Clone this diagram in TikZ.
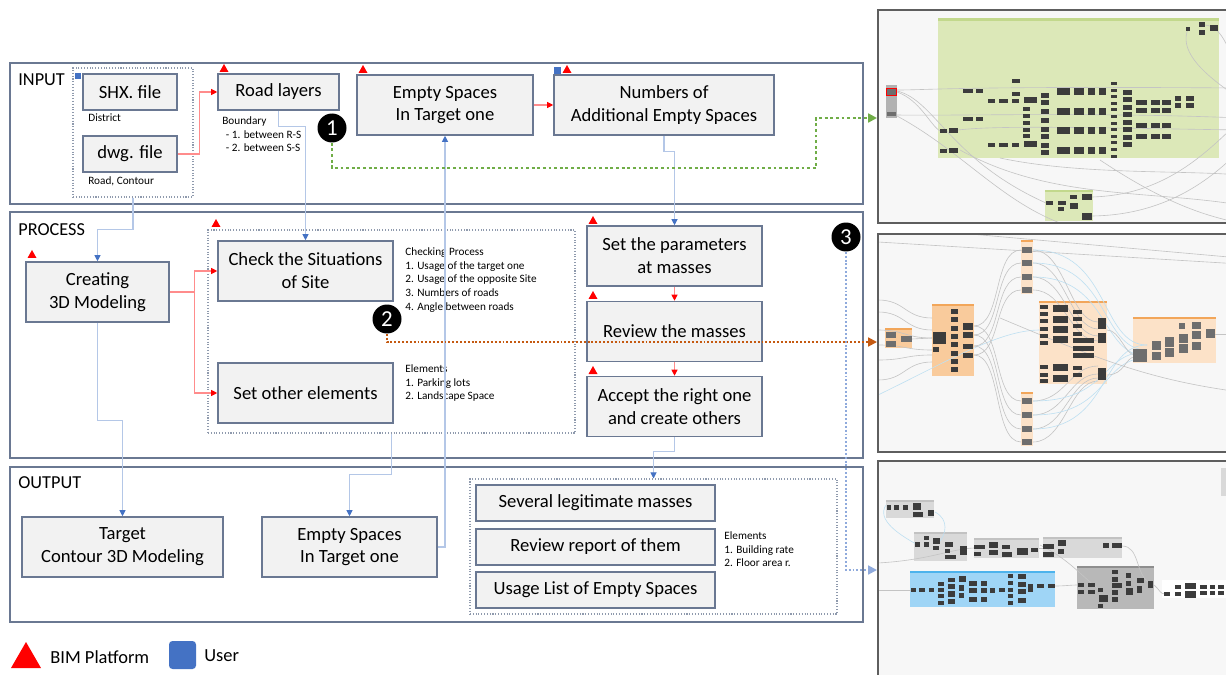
\documentclass[tikz,border=0pt]{standalone}
\usepackage{fontspec}
\setmainfont{Carlito}
\usetikzlibrary{arrows.meta}

\definecolor{frame}{HTML}{6A7892}
\definecolor{boxfill}{HTML}{F2F2F2}
\definecolor{bimred}{HTML}{FF0000}
\definecolor{userblue}{HTML}{4472C4}
\definecolor{redwire}{HTML}{FF8C8C}
\definecolor{bluewire}{HTML}{B4C7E7}
\definecolor{dotgreen}{HTML}{70AD47}
\definecolor{dotorange}{HTML}{C55A11}
\definecolor{dotblue}{HTML}{8FAADC}
\definecolor{shotbg}{HTML}{F7F7F7}
\definecolor{shotframe}{HTML}{5E5E5E}
\definecolor{dyngreen}{HTML}{DCE8B8}
\definecolor{dyngreenhd}{HTML}{C2D88C}
\definecolor{dynorange}{HTML}{F9CB9C}
\definecolor{dynorangehd}{HTML}{F2A65A}
\definecolor{dynpeach}{HTML}{FCE2C8}
\definecolor{dynblue}{HTML}{9FD5F6}
\definecolor{dynbluehd}{HTML}{4DB3EC}
\definecolor{dyngrey}{HTML}{D9D9D9}
\definecolor{dyngreyhd}{HTML}{C2C2C2}
\definecolor{dyndark}{HTML}{B8B8B8}
\definecolor{dyndarkhd}{HTML}{8E8E8E}
\definecolor{nodedark}{HTML}{3C3C3C}
\definecolor{nodemid}{HTML}{6E6E6E}
\definecolor{wiregrey}{HTML}{C4C4C4}
\definecolor{wireblue}{HTML}{BFE0F2}

\tikzset{
  sz/.style 2 args={minimum width=#1*0.02cm, minimum height=#2*0.02cm},
  panel/.style={draw=frame, line width=0.9pt},
  stage/.style={draw=frame, fill=boxfill, line width=0.9pt, inner sep=0pt,
    align=center, font=\fontsize{10.6}{13}\selectfont},
  grp/.style={draw=frame!75, densely dotted, line width=0.6pt, inner sep=0pt},
  title/.style={anchor=west, inner sep=0pt, font=\fontsize{10.4}{12}\selectfont},
  note/.style={anchor=north west, inner sep=0pt, align=left,
    font=\fontsize{6.4}{7.9}\selectfont},
  badge/.style={circle, fill=black, text=white, inner sep=0pt, minimum size=0.58cm,
    font=\fontsize{13}{13}\selectfont},
  rflow/.style={draw=redwire, line width=0.6pt,
    -{Triangle[length=3.5pt, width=3.5pt, color=bimred]}},
  bflow/.style={draw=bluewire, line width=0.6pt,
    -{Triangle[length=3.5pt, width=3.5pt, color=userblue]}},
  link/.style={-{Triangle[length=5pt, width=5pt]}},
  wire/.style={draw=wiregrey, line width=0.35pt},
}

\begin{document}
\begin{tikzpicture}[x=0.02cm, y=-0.02cm]
\useasboundingbox (0,0) rectangle (1226,675);
\fill[white] (0,0) rectangle (1226,675);

% ---------- Dynamo screenshots (right) ----------
\begin{scope}
\clip (876,0) rectangle (1226,675);
% graph 1: green groups
\fill[shotbg] (878,10) rectangle (1240,223);
\fill[dyngreen] (938,18) rectangle (1219,158);
\fill[dyngreenhd] (938,18) rectangle (1219,21);
\fill[dyngreen] (1045,190) rectangle (1093,221);
\fill[dyngreenhd] (1045,190) rectangle (1093,192);
\draw[wire] (897,90) .. controls (930,90) and (960,86) .. (1240,88);
\draw[wire] (897,91) .. controls (935,100) and (950,160) .. (1046,203);
\draw[wire] (897,92) .. controls (920,100) and (930,125) .. (940,131);
\draw[wire] (897,115) .. controls (950,116) and (1100,112) .. (1240,118);
\draw[wire] (897,116) .. controls (960,150) and (1000,200) .. (1060,223);
\draw[wire] (1188,29) .. controls (1175,60) and (1230,90) .. (1240,100);
\draw[wire] (1204,25) .. controls (1225,25) and (1230,60) .. (1240,70);
\draw[wire] (1092,197) .. controls (1160,195) and (1200,160) .. (1240,120);
\draw[wire] (1092,216) .. controls (1170,215) and (1215,175) .. (1240,150);
\draw[wire] (960,150) .. controls (1050,200) and (1150,190) .. (1240,205);
\draw[wire] (1100,160) .. controls (1160,200) and (1200,215) .. (1240,223);
\draw[wire] (1000,158) .. controls (1080,175) and (1180,170) .. (1240,175);
\draw[wire] (958,130) .. controls (1000,125) and (1100,128) .. (1240,130);
\foreach \a/\b/\c/\d in {963/89/973/93, 976/89/983/93, 1012/79/1020/83, 1012/92/1020/96,
  988/99/995/103, 999/99/1008/103, 1012/99/1019/103, 1024/97/1037/103,
  963/117/973/121, 976/117/983/121, 940/129/947/133, 949/128/958/133,
  940/149/947/153, 949/148/958/153, 988/143/995/147, 999/143/1008/147,
  1012/143/1019/147, 1024/141/1037/147, 1186/27/1190/31, 1199/22/1205/27,
  1199/30/1205/35, 1210/25/1218/31, 1046/201/1053/205, 1058/201/1066/205,
  1058/207/1064/211, 1070/195/1077/199, 1070/203/1078/209, 1082/194/1092/200,
  1082/213/1092/220}
  \fill[nodedark] (\a,\b) rectangle (\c,\d);
\foreach \y in {107,114,121,128,134} \fill[nodedark] (1023,\y) rectangle (1030,\y+4);
\foreach \y in {93,100,109,118,127,134,143,150} \fill[nodedark] (1041,\y) rectangle (1049,\y+5);
\foreach \y in {88,108,127,147}
  \foreach \a/\c in {1057/1070,1074/1084,1088/1095,1099/1106}
    \fill[nodedark] (\a,\y) rectangle (\c,\y+7);
\foreach \k in {0,...,11} \fill[nodedark] (1111,82+6.6*\k) rectangle (1117,85+6.6*\k);
\foreach \k in {0,...,7} \fill[nodedark] (1123,90+7.5*\k) rectangle (1132,95+7.5*\k);
\foreach \y in {100,108,123,134}
  \foreach \a/\c in {1136/1147,1151/1160,1162/1171}
    \fill[nodedark] (\a,\y) rectangle (\c,\y+5);
\foreach \y in {96,103}
  \foreach \a/\c in {1175/1181,1186/1194}
    \fill[nodedark] (\a,\y) rectangle (\c,\y+5);
\fill[black!30] (886,85) rectangle (897,118);
\filldraw[fill=nodemid, draw=red, line width=0.5pt] (886.5,88) rectangle (896.5,95);
\fill[nodemid] (887,112) rectangle (896,116);
\draw[shotframe, line width=1.1pt] (878,10) rectangle (1240,223);

% graph 2: orange groups
\fill[shotbg] (878,234) rectangle (1240,452);
\foreach \a/\b/\c/\d/\f in {885/328/912/348/dynorange, 932/304/974/376/dynorange,
  1021/240/1033/294/dynpeach, 1021/392/1033/446/dynpeach,
  1039/301/1107/384/dynpeach, 1133/317/1216/363/dynpeach}
  {\fill[\f] (\a,\b) rectangle (\c,\d);
   \fill[dynorangehd] (\a,\b) rectangle (\c,\b+2);}
\draw[wire] (878,242) -- (1240,264);
\draw[wire] (970,234) -- (1240,258);
\foreach \a/\b in {300/318, 312/330, 330/338, 345/350, 360/355, 380/362}
  \draw[wire] (878,\a) .. controls (905,\a) and (905,\b) .. (932,\b);
\draw[wire, draw=wireblue] (878,395) .. controls (950,360) and (1000,330) .. (1040,330);
\draw[wire] (912,339) -- (932,338);
\foreach \a/\b in {326/250, 335/263, 346/277, 355/290, 326/401, 335/415, 346/429, 355/442}
  \draw[wire] (974,\a) .. controls (1002,\a) and (993,\b) .. (1021,\b);
\foreach \b/\c in {250/322, 263/329, 277/336, 290/341, 401/366, 415/374, 429/378, 442/381}
  \draw[wire] (1033,\b) .. controls (1065,\b) and (1070,\c) .. (1098,\c);
\foreach \b/\c in {250/345, 263/350, 277/356, 401/352, 415/358, 429/345}
  \draw[wire, draw=wireblue] (1033,\b) .. controls (1110,\b) and (1100,\c) .. (1147,\c);
\draw[wire] (1107,330) .. controls (1120,330) and (1125,355) .. (1135,355);
\draw[wire] (1107,375) .. controls (1125,375) and (1125,357) .. (1135,357);
\draw[wire] (1215,334) -- (1240,334);
\draw[wire] (1000,318) .. controls (1100,360) and (1150,380) .. (1240,392);
\foreach \a/\b/\c/\d in {886/332/896/338, 886/341/896/347, 901/336/912/342,
  1133/349/1147/362, 1152/341/1161/350, 1152/352/1161/360, 1165/337/1174/347,
  1165/348/1174/357, 1179/334/1188/343, 1179/344/1188/353, 1179/323/1185/329,
  1192/322/1201/329, 1192/331/1201/339, 1192/342/1201/350, 1206/329/1215/338}
  \fill[nodemid] (\a,\b) rectangle (\c,\d);
\foreach \y in {247,260,274,287,398,412,426,439} \fill[nodemid] (1022,\y) rectangle (1032,\y+6);
\foreach \k in {0,...,7} \fill[nodedark] (951,309+8.3*\k) rectangle (958,314+8.3*\k);
\foreach \a/\b/\c/\d in {933/332/946/344, 933/347/939/352, 963/323/973/330, 963/332/973/338,
  963/344/973/349, 963/353/973/358, 1098/318/1106/329, 1098/333/1106/343, 1098/368/1106/380}
  \fill[nodedark] (\a,\b) rectangle (\c,\d);
\foreach \y in {305,312,319,327,334,341,365,373,379} \fill[nodedark] (1040,\y) rectangle (1048,\y+4);
\foreach \y in {305,316,326,336,364,375} \fill[nodedark] (1053,\y) rectangle (1068,\y+7);
\foreach \y in {310,317,324,332,366,373} \fill[nodedark] (1073,\y) rectangle (1082,\y+4);
\foreach \y in {338,346,353} \fill[nodedark] (1073,\y) rectangle (1094,\y+5);
\draw[shotframe, line width=1.1pt] (878,234) rectangle (1240,452);

% graph 3: grey and blue groups
\fill[shotbg] (878,461) rectangle (1240,690);
\foreach \a/\b/\c/\d/\f/\h in {886/500/934/518/dyngrey/dyngreyhd, 914/532/967/561/dyngrey/dyngreyhd,
  974/538/1039/558/dyngrey/dyngreyhd, 1043/537/1122/558/dyngrey/dyngreyhd,
  910/571/1055/607/dynblue/dynbluehd, 1077/566/1154/609/dyndark/dyndarkhd}
  {\fill[\f] (\a,\b) rectangle (\c,\d);
   \fill[\h] (\a,\b) rectangle (\c,\b+2);}
\fill[white] (1162,580) rectangle (1240,598);
\fill[dyngrey] (1221,468) rectangle (1226,496);
\draw[wire] (878,563) .. controls (930,560) and (950,549) .. (974,548);
\draw[wire] (878,590) -- (911,590);
\draw[wire] (1055,586) .. controls (1065,586) and (1070,585) .. (1078,585);
\draw[wire] (1122,546) .. controls (1140,546) and (1135,575) .. (1150,583);
\draw[wire] (1039,548) -- (1043,548);
\draw[wire] (1040,545) .. controls (1070,560) and (1080,575) .. (1100,590);
\draw[wire] (1154,585) .. controls (1160,590) and (1160,594) .. (1165,594);
\draw[wire, draw=wireblue] (886,505) .. controls (876,520) and (900,535) .. (916,544);
\draw[wire, draw=wireblue] (935,512) .. controls (950,520) and (945,535) .. (940,541);
\foreach \a/\b/\c/\d in {887/505/891/510, 894/505/899/510, 903/505/908/510, 913/503/921/510,
  913/512/923/517, 928/510/934/516, 915/542/920/547, 924/536/929/540, 924/542/929/547,
  933/538/940/544, 933/546/939/550, 945/542/953/547, 945/549/950/553, 945/555/956/559,
  960/546/967/555, 974/545/985/549, 974/552/981/556, 989/542/998/548, 989/550/998/555,
  1002/545/1010/549, 1002/552/1012/557, 1017/548/1028/555, 1031/548/1038/552,
  1043/544/1054/549, 1043/552/1054/557, 1058/540/1066/546, 1058/549/1064/554,
  1103/543/1109/548, 1112/543/1122/548}
  \fill[nodedark] (\a,\b) rectangle (\c,\d);
\foreach \a/\b/\c/\d in {911/588/916/592, 919/588/925/592, 929/588/934/592,
  938/582/944/586, 938/588/944/592, 938/594/944/598, 938/601/944/605,
  948/578/955/582, 948/584/955/589, 948/591/955/597, 948/599/955/604,
  959/576/966/582, 959/585/964/591, 959/593/964/598, 969/581/977/586, 969/588/977/593,
  969/597/977/602, 981/581/987/586, 981/588/987/593, 981/597/987/602, 990/588/995/593,
  999/588/1005/592, 1008/574/1013/578, 1008/581/1013/585, 1008/588/1013/592,
  1008/594/1013/598, 1008/601/1013/605, 1018/574/1026/579, 1018/582/1026/587,
  1018/589/1026/594, 1018/598/1026/603, 1028/584/1033/592, 1037/584/1044/588,
  1048/584/1055/588}
  \fill[nodedark] (\a,\b) rectangle (\c,\d);
\foreach \a/\b/\c/\d in {1078/583/1084/587, 1078/590/1084/594, 1088/583/1095/587,
  1088/590/1095/594, 1098/588/1103/592, 1099/595/1108/602, 1098/604/1103/608,
  1112/570/1118/574, 1112/577/1118/582, 1112/583/1122/588, 1112/590/1118/595,
  1112/597/1118/602, 1126/573/1131/578, 1126/581/1131/586, 1126/588/1133/595,
  1137/578/1144/583, 1137/586/1142/593, 1148/581/1153/588,
  1164/592/1170/596, 1175/585/1181/589, 1175/592/1181/596, 1185/583/1196/589,
  1185/591/1196/598, 1200/585/1207/589, 1200/591/1207/595, 1210/585/1215/589,
  1210/591/1215/595, 1218/585/1224/589, 1218/591/1224/595}
  \fill[nodedark] (\a,\b) rectangle (\c,\d);
\draw[shotframe, line width=1.1pt] (878,461) rectangle (1240,690);
\end{scope}

% ---------- INPUT ----------
\draw[panel] (10,63) rectangle (863,204);
\node[title] (tinput) at (18,80) {INPUT};
\node[grp, sz={120}{129}] (ingrp) at (133,132.5) {};
\node[stage, sz={94}{36}] (shx) at (130,92) {SHX. file};
\node[stage, sz={94}{36}] (dwg) at (130,154) {dwg. file};
\node[note] (ndistrict) at (88,113) {District};
\node[note] (nroad) at (88,176) {Road, Contour};
\node[stage, sz={121}{36}] (road) at (278.5,92) {Road layers};
\node[note] (nbound) at (222,116) {Boundary\\\hspace*{2pt}- 1. between R-S\\\hspace*{2pt}- 2. between S-S};
\node[stage, sz={176}{60}] (emptyin) at (445,105) {Empty Spaces\\In Target one};
\node[stage, sz={220}{60}] (numbers) at (664,105) {Numbers of\\Additional Empty Spaces};

% ---------- PROCESS ----------
\draw[panel] (10,212) rectangle (863,458);
\node[title] (tprocess) at (18,230) {PROCESS};
\node[grp, sz={367}{203}] (procgrp) at (391.5,331.5) {};
\node[stage, sz={143}{60}] (create) at (97.5,292) {Creating\\3D Modeling};
\node[stage, sz={175}{60}] (check) at (305.5,271) {Check the Situations\\of Site};
\node[stage, sz={175}{60}] (other) at (305.5,393) {Set other elements};
\node[note] (ncheck) at (405,247) {Checking Process\\1. Usage of the target one\\2. Usage of the opposite Site\\3. Numbers of roads\\4. Angle between roads};
\node[note] (nelem) at (405,364) {Elements\\1. Parking lots\\2. Landscape Space};
\node[stage, sz={175}{60}] (params) at (674.5,256) {Set the parameters\\at masses};
\node[stage, sz={175}{60}] (review) at (674.5,331.5) {Review the masses};
\node[stage, sz={175}{60}] (accept) at (674.5,406.5) {Accept the right one\\and create others};

% ---------- OUTPUT ----------
\draw[panel] (10,467) rectangle (863,622);
\node[title] (toutput) at (18,483) {OUTPUT};
\node[grp, sz={367}{135}] (outgrp) at (653.5,546.5) {};
\node[stage, sz={201}{60}] (target) at (122.5,547) {Target\\Contour 3D Modeling};
\node[stage, sz={175}{60}] (emptyout) at (349.5,547) {Empty Spaces\\In Target one};
\node[stage, sz={239}{36}] (several) at (595.5,503) {Several legitimate masses};
\node[stage, sz={239}{36}] (report) at (595.5,547) {Review report of them};
\node[stage, sz={239}{36}] (usage) at (595.5,590) {Usage List of Empty Spaces};
\node[note] (nout) at (724,531) {Elements\\1. Building rate\\2. Floor area r.};

% BIM platform and user marks
\foreach \x/\y in {224/72, 363/73, 567/73, 32/258, 216/227, 593/224, 593/299, 593/374}
  \fill[bimred] (\x-4.5,\y) -- (\x+4.5,\y) -- (\x,\y-8) -- cycle;
\fill[userblue] (75,73) rectangle (81,79);
\fill[userblue] (554,67) rectangle (561,74);

% flows
\draw[rflow] (dwg.east) -- ++(22,0) |- (road.west);
\draw[rflow] (emptyin.east) -- (numbers.west);
\draw[rflow] (create.east) -- ++(25,0) coordinate (fork) |- (check.west);
\draw[rflow] (fork) |- (other.west);
\draw[rflow] (params.south) -- (review.north);
\draw[rflow] (review.south) -- (accept.north);
\draw[bflow] (ingrp.south) -- ++(0,32) -| (create.north);
\draw[bflow] (road.south) -- ++(0,16) -| (check.north);
\draw[bflow] (numbers.south) -- ++(0,16) -| (params.north);
\draw[bflow] (create.south) -- ++(0,98) -| (target.north);
\draw[bflow] (procgrp.south) -- ++(0,41) -| (emptyout.north);
\draw[bflow] (emptyout.east) -| (emptyin.south);
\draw[bflow] (accept.south) -- ++(0,14) -| (outgrp.north);

% links to the screenshots
\node[badge] (one) at (332,128) {1};
\node[badge] (two) at (387,319) {2};
\node[badge] (three) at (846,237) {3};
\coordinate (shot1) at (877,118);
\coordinate (shot2) at (877,342);
\coordinate (shot3) at (877,570);
\draw[link, dotgreen, line width=1.6pt, dash pattern=on 1.6pt off 1.6pt] (one.south) |- (816,168) |- (shot1);
\draw[link, dotorange, line width=1.1pt, dash pattern=on 1.1pt off 1.1pt] (two.south) |- (shot2);
\draw[link, dotblue, line width=1.1pt, dash pattern=on 1.1pt off 1.1pt] (three.south) |- (shot3);

% legend
\fill[bimred] (11,668) -- (41,668) -- (26,642) -- cycle;
\node[title, font=\fontsize{10.5}{12}\selectfont] (lbim) at (50,657) {BIM Platform};
\fill[userblue, rounded corners=2pt] (169,641) rectangle (196,669);
\node[title, font=\fontsize{10.5}{12}\selectfont] (luser) at (204,656) {User};
\end{tikzpicture}
\end{document}
